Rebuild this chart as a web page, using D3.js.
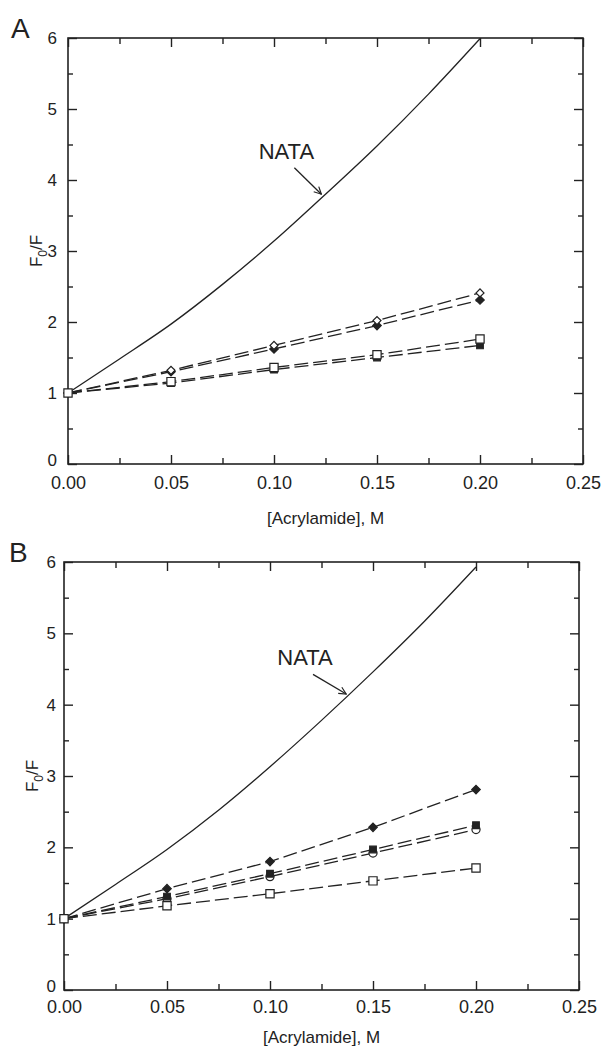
<!DOCTYPE html>
<html>
<head>
<meta charset="utf-8">
<script src="https://cdn.jsdelivr.net/npm/d3@7"></script>
<style>
  body { margin: 0; background: #fff; }
  text { font-family: "Liberation Sans", Arial, sans-serif; fill: #222; }
</style>
</head>
<body>
<script>
// ---- data ----
const xTicks = [0, 0.05, 0.10, 0.15, 0.20, 0.25];
const xMinor = [0.025, 0.075, 0.125, 0.175, 0.225];
const yTicks = [0, 1, 2, 3, 4, 5, 6];
const yMinor = [0.5, 1.5, 2.5, 3.5, 4.5, 5.5];

const conc = [0, 0.05, 0.10, 0.15, 0.20];

// NATA reference curve (solid)
const nataConc = [0, 0.025, 0.05, 0.075, 0.10, 0.125, 0.15, 0.175, 0.20];
const nataA = [1.0, 1.48, 1.97, 2.53, 3.14, 3.80, 4.48, 5.21, 5.99];
const nataB = [1.0, 1.48, 1.97, 2.52, 3.13, 3.78, 4.46, 5.17, 5.93];

// panel A
const aOpenDiamond = [1.0, 1.32, 1.67, 2.02, 2.41];
const aFilledDiamond = [1.0, 1.30, 1.62, 1.95, 2.31];
const aOpenSquare = [1.0, 1.16, 1.36, 1.54, 1.76];
const aFilledSquare = [1.0, 1.14, 1.33, 1.50, 1.67];

// panel B
const bFilledDiamond = [1.0, 1.42, 1.80, 2.28, 2.81];
const bFilledSquare = [1.0, 1.31, 1.63, 1.97, 2.31];
const bOpenCircle = [1.0, 1.28, 1.59, 1.92, 2.25];
const bOpenSquare = [1.0, 1.18, 1.35, 1.53, 1.71];

const ink = '#222';

const svg = d3.select('body').append('svg')
  .attr('width', 603)
  .attr('height', 1051);

// open arrow head for the NATA label
svg.append('defs').append('marker')
  .attr('id', 'arrow')
  .attr('viewBox', '0 0 10 10')
  .attr('refX', 9).attr('refY', 5)
  .attr('markerWidth', 9).attr('markerHeight', 9)
  .attr('markerUnits', 'userSpaceOnUse')
  .attr('orient', 'auto')
  .append('path')
    .attr('d', 'M1,1 L9,5 L1,9')
    .attr('fill', 'none')
    .attr('stroke', ink)
    .attr('stroke-width', 1.3);

const markerStyles = {
  openDiamond:   { type: d3.symbolSquare, size: 32, rotate: 45, fill: '#fff' },
  filledDiamond: { type: d3.symbolSquare, size: 36, rotate: 45, fill: ink },
  openSquare:    { type: d3.symbolSquare, size: 68, rotate: 0,  fill: '#fff' },
  filledSquare:  { type: d3.symbolSquare, size: 44, rotate: 0,  fill: ink },
  openCircle:    { type: d3.symbolCircle, size: 52, rotate: 0,  fill: '#fff' }
};

function drawPanel(p) {
  const { left, top, width, height, letter, nata, series, label, tickGap, titleGap } = p;

  const g = svg.append('g').attr('transform', `translate(${left},${top})`);

  const x = d3.scaleLinear().domain([0, 0.25]).range([0, width]);
  const y = d3.scaleLinear().domain([0, 6]).range([height, 0]);

  // ticks point inward on all four sides
  const bottom = g.append('g').attr('transform', `translate(0,${height})`)
    .call(d3.axisBottom(x).tickValues(xTicks).tickFormat(d3.format('.2f'))
      .tickSizeInner(-9).tickSizeOuter(0).tickPadding(tickGap.x));
  g.append('g').attr('transform', `translate(0,${height})`)
    .call(d3.axisBottom(x).tickValues(xMinor).tickFormat('').tickSizeInner(-6).tickSizeOuter(0));
  g.append('g')
    .call(d3.axisTop(x).tickValues(xTicks).tickFormat('').tickSizeInner(-9).tickSizeOuter(0));
  g.append('g')
    .call(d3.axisTop(x).tickValues(xMinor).tickFormat('').tickSizeInner(-6).tickSizeOuter(0));

  const leftAx = g.append('g')
    .call(d3.axisLeft(y).tickValues(yTicks).tickFormat(d3.format('d'))
      .tickSizeInner(-9).tickSizeOuter(0).tickPadding(tickGap.y));
  g.append('g')
    .call(d3.axisLeft(y).tickValues(yMinor).tickFormat('').tickSizeInner(-5).tickSizeOuter(0));
  g.append('g').attr('transform', `translate(${width},0)`)
    .call(d3.axisRight(y).tickValues(yTicks).tickFormat('').tickSizeInner(-9).tickSizeOuter(0));
  g.append('g').attr('transform', `translate(${width},0)`)
    .call(d3.axisRight(y).tickValues(yMinor).tickFormat('').tickSizeInner(-5).tickSizeOuter(0));

  g.selectAll('.domain').remove();
  g.selectAll('.tick line').attr('stroke', ink).attr('stroke-width', 1.4);
  bottom.selectAll('text').style('font-size', '18px').attr('fill', ink);
  leftAx.selectAll('text').style('font-size', '17px').attr('fill', ink);
  // the "0" sits just above "0.00"; nudge it up a touch like the original
  leftAx.selectAll('.tick').filter(d => d === 0).select('text').attr('dy', '0.1em');

  g.append('rect')
    .attr('width', width).attr('height', height)
    .attr('fill', 'none').attr('stroke', ink).attr('stroke-width', 1.6);

  // axis titles
  g.append('text')
    .attr('x', width / 2).attr('y', height + titleGap)
    .attr('text-anchor', 'middle')
    .style('font-size', '17px')
    .text('[Acrylamide], M');

  const yt = g.append('text')
    .attr('transform', `translate(-26,${height / 2}) rotate(-90)`)
    .attr('text-anchor', 'middle')
    .style('font-size', '17px');
  yt.append('tspan').text('F');
  yt.append('tspan').attr('dy', 5).style('font-size', '12px').text('0');
  yt.append('tspan').attr('dy', -5).text('/F');

  g.append('text')
    .attr('x', letter.dx).attr('y', 0)
    .style('font-size', '28px')
    .text(letter.text);

  // NATA curve
  const curve = d3.line()
    .x((d, i) => x(nataConc[i]))
    .y(d => y(d))
    .curve(d3.curveMonotoneX);
  g.append('path')
    .attr('d', curve(nata))
    .attr('fill', 'none')
    .attr('stroke', ink)
    .attr('stroke-width', 1.3);

  g.append('text')
    .attr('x', x(label.x)).attr('y', y(label.y))
    .attr('text-anchor', 'middle')
    .style('font-size', '22px')
    .text('NATA');
  g.append('line')
    .attr('x1', x(label.x) + 8).attr('y1', y(label.y) + 9)
    .attr('x2', x(label.tipX)).attr('y2', y(label.tipY))
    .attr('stroke', ink).attr('stroke-width', 1.3)
    .attr('marker-end', 'url(#arrow)');

  // dashed series lines, then markers
  const line = d3.line()
    .x((d, i) => x(conc[i]))
    .y(d => y(d));

  series.forEach(s => {
    g.append('path')
      .attr('d', line(s.values))
      .attr('fill', 'none')
      .attr('stroke', ink)
      .attr('stroke-width', 1.3)
      .attr('stroke-dasharray', '14,5');
  });

  series.forEach(s => {
    const m = markerStyles[s.marker];
    g.append('g').selectAll('path')
      .data(s.values)
      .join('path')
        .attr('d', d3.symbol().type(m.type).size(m.size))
        .attr('transform', (d, i) => `translate(${x(conc[i])},${y(d)}) rotate(${m.rotate})`)
        .attr('fill', m.fill)
        .attr('stroke', ink)
        .attr('stroke-width', 1.2);
  });
}

drawPanel({
  left: 68, top: 38, width: 515, height: 426,
  letter: { text: 'A', dx: -57 },
  tickGap: { x: 12, y: 11 },
  titleGap: 60,
  nata: nataA,
  label: { x: 0.106, y: 4.3, tipX: 0.123, tipY: 3.8 },
  series: [
    { values: aFilledDiamond, marker: 'filledDiamond' },
    { values: aOpenDiamond, marker: 'openDiamond' },
    { values: aFilledSquare, marker: 'filledSquare' },
    { values: aOpenSquare, marker: 'openSquare' }
  ]
});

drawPanel({
  left: 64, top: 562, width: 515, height: 428,
  letter: { text: 'B', dx: -55 },
  tickGap: { x: 10, y: 8 },
  titleGap: 53,
  nata: nataB,
  label: { x: 0.117, y: 4.55, tipX: 0.137, tipY: 4.15 },
  series: [
    { values: bFilledDiamond, marker: 'filledDiamond' },
    { values: bOpenCircle, marker: 'openCircle' },
    { values: bFilledSquare, marker: 'filledSquare' },
    { values: bOpenSquare, marker: 'openSquare' }
  ]
});
</script>
</body>
</html>
